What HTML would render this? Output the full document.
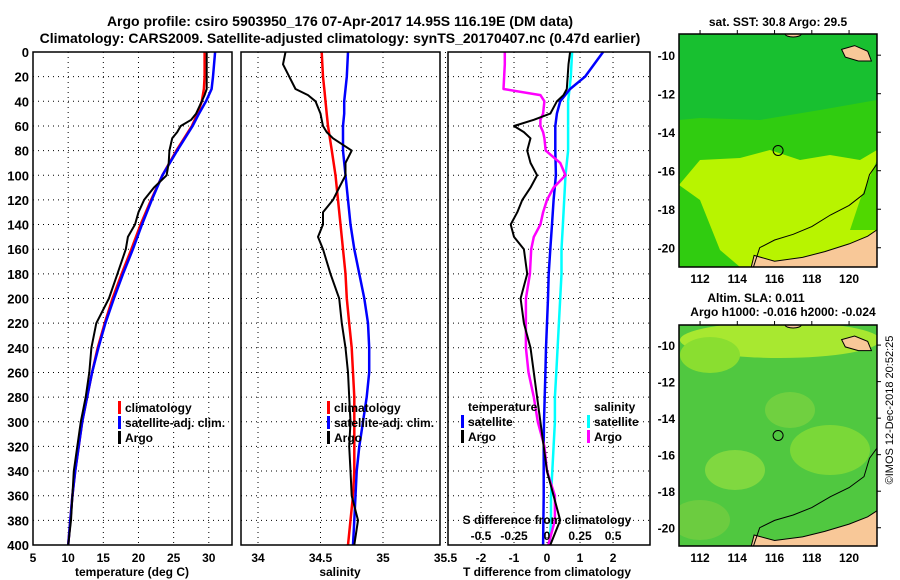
<!DOCTYPE html>
<html><head><meta charset="utf-8">
<style>
body{margin:0;background:#fff;}
svg{display:block;font-family:"Liberation Sans",sans-serif;font-weight:bold;}
</style></head>
<body>
<svg id="s" width="900" height="580" xmlns="http://www.w3.org/2000/svg">
<text x="340" y="26" font-size="14" text-anchor="middle">Argo profile: csiro 5903950_176 07-Apr-2017 14.95S 116.19E (DM data)</text>
<text x="340" y="43" font-size="14" text-anchor="middle">Climatology: CARS2009. Satellite-adjusted climatology: synTS_20170407.nc (0.47d earlier)</text>
<text transform="translate(893,410) rotate(-90)" font-size="11" font-weight="normal" text-anchor="middle">©IMOS 12-Dec-2018 20:52:25</text>
<g id="g"></g>
</svg>
<script>
// ---- data ----
const depths = [0,20,30,40,50,60,80,100,120,140,160,180,200,220,240,260,280,300,320,340,360,380,400];
const tempClim = [29.4,29.4,29.3,29.0,28.4,27.6,25.4,23.4,21.8,20.3,19.0,17.6,16.3,15.2,14.2,13.4,12.7,12.0,11.5,11.0,10.6,10.3,10.0];
const tempSat  = [30.9,30.6,30.4,29.6,28.6,27.7,25.5,23.4,21.9,20.5,19.2,17.8,16.5,15.3,14.3,13.4,12.7,12.0,11.5,11.0,10.6,10.3,10.0];
const argoDepths = [0,10,30,35,40,50,55,60,65,70,80,90,100,110,120,130,140,150,160,180,200,220,240,260,280,300,320,340,360,380,400];
const tempArgo = [29.7,29.7,29.7,29.4,29.0,28.2,27.5,26.0,25.5,24.8,24.4,24.3,24.0,22.2,20.8,20.0,19.5,18.5,18.2,17.0,15.8,14.0,13.3,13.0,12.5,11.8,11.3,10.8,10.6,10.4,10.0];
const salClim = [34.51,34.52,34.53,34.54,34.55,34.56,34.59,34.62,34.64,34.66,34.68,34.70,34.71,34.73,34.75,34.76,34.77,34.77,34.77,34.77,34.76,34.74,34.72];
const salSat  = [34.72,34.71,34.70,34.69,34.69,34.68,34.68,34.70,34.72,34.74,34.77,34.81,34.85,34.88,34.89,34.89,34.87,34.84,34.81,34.79,34.78,34.77,34.76];
const salArgo = [34.22,34.2,34.3,34.4,34.46,34.5,34.51,34.52,34.55,34.6,34.75,34.7,34.7,34.65,34.6,34.52,34.52,34.48,34.52,34.58,34.65,34.67,34.7,34.72,34.73,34.74,34.73,34.74,34.75,34.8,34.77];
const tDiffSat  = [1.7,1.15,0.7,0.4,0.3,0.25,0.25,0.27,0.2,0.15,0.1,0.05,0.03,0.0,-0.03,-0.05,-0.07,-0.09,-0.1,-0.1,-0.1,-0.11,-0.12];
const tDiffArgo = [0.7,0.65,0.6,0.5,0.3,0.1,-0.4,-1.0,-0.7,-0.5,-0.6,-0.5,-0.3,-0.5,-0.75,-0.9,-1.1,-1.0,-0.7,-0.6,-0.8,-0.7,-0.5,-0.4,-0.3,-0.2,-0.1,0.0,0.2,0.4,0.1];
const sDiffSat  = [0.19,0.18,0.17,0.16,0.16,0.16,0.16,0.14,0.13,0.12,0.11,0.11,0.10,0.09,0.08,0.07,0.06,0.06,0.05,0.04,0.03,0.03,0.02];
const sDiffArgo = [-0.32,-0.32,-0.33,-0.05,-0.02,-0.03,-0.05,-0.05,-0.03,-0.02,-0.01,0.10,0.14,0.05,0.0,-0.03,-0.05,-0.1,-0.12,-0.13,-0.16,-0.16,-0.16,-0.14,-0.1,-0.07,-0.02,0.0,0.06,0.06,0.01];
const yTicks = [0,20,40,60,80,100,120,140,160,180,200,220,240,260,280,300,320,340,360,380,400];
const tTicks = [5,10,15,20,25,30];
const sTicks = [34,34.5,35,35.5];
const dTicks = [-2,-1,0,1,2];
const sdTicks = [-0.5,-0.25,0,0.25,0.5];
const lonTicks = [112,114,116,118,120];
const latTicks = [-10,-12,-14,-16,-18,-20];

const NS="http://www.w3.org/2000/svg";
const G=document.getElementById('g');
function mk(tag,a,parent){const e=document.createElementNS(NS,tag);for(const k in a)e.setAttribute(k,a[k]);(parent||G).appendChild(e);return e;}
function txt(x,y,s,size,anchor,parent){const e=mk('text',{x:x,y:y,'font-size':size,'text-anchor':anchor||'middle'},parent);e.textContent=s;return e;}

const Y0=52,Y1=545;
const yS=d=>Y0+(d/400)*(Y1-Y0);

function panel(name,x0,x1,lo,hi,ticks,fmt,showY){
  const xS=v=>x0+(v-lo)/(hi-lo)*(x1-x0);
  const g=mk('g',{});
  
  
  yTicks.forEach(d=>{
    const l=mk('line',{x1:x0,x2:x1,y1:yS(d),y2:yS(d),stroke:'#000','stroke-dasharray':'1,4','stroke-width':1},g);
    
    if(showY){const t=txt(x0-4,yS(d)+5,String(d),13,'end',g);}
  });
  ticks.forEach(v=>{
    const l=mk('line',{x1:xS(v),x2:xS(v),y1:Y0,y2:Y1,stroke:'#000','stroke-dasharray':'1,4'},g);
    
    const t=txt(xS(v),Y1+17,fmt(v),12,'middle',g);
    
  });
  return {g,xS};
}
function line(g,xs,ds,xS,color,name,w){
  const p=mk('polyline',{points:xs.map((v,i)=>xS(v).toFixed(1)+','+yS(ds[i]).toFixed(1)).join(' '),fill:'none',stroke:color,'stroke-width':w||2.5,'stroke-linejoin':'round'},g);
  
}
function frame(g,x0,x1){const r=mk('rect',{x:x0,y:Y0,width:x1-x0,height:Y1-Y0,fill:'none',stroke:'#000','stroke-width':1.5},g);}
function legend(g,x,y,items){
  items.forEach((it,i)=>{
    const r=mk('rect',{x:x,y:y+i*15-11,width:3,height:13,fill:it[1]},g);
    
    const t=txt(x+7,y+i*15,it[0],12,'start',g);
  });
}

// Panel 1 temperature
let P=panel('temperature-panel',33,232,5,33.3,tTicks,v=>String(v),true);
line(P.g,tempClim,depths,P.xS,'#f00','temp-climatology-line');
line(P.g,tempSat,depths,P.xS,'#00f','temp-satellite-line');
line(P.g,tempArgo,argoDepths,P.xS,'#000','temp-argo-line',2);
frame(P.g,33,232);
legend(P.g,118,412,[['climatology','#f00'],['satellite-adj. clim.','#00f'],['Argo','#000']]);
txt(132,576,'temperature (deg C)',12,'middle',P.g);

// Panel 2 salinity
P=panel('salinity-panel',241,440,33.864,35.456,sTicks,v=>String(v),false);
line(P.g,salClim,depths,P.xS,'#f00','sal-climatology-line');
line(P.g,salSat,depths,P.xS,'#00f','sal-satellite-line');
line(P.g,salArgo,argoDepths,P.xS,'#000','sal-argo-line',2);
frame(P.g,241,440);
legend(P.g,327,412,[['climatology','#f00'],['satellite-adj. clim.','#00f'],['Argo','#000']]);
txt(340,576,'salinity',12,'middle',P.g);

// Panel 3 differences
P=panel('difference-panel',448,650,-3,3.12,dTicks,v=>String(v),false);
const sS=v=>P.xS(v*4);
line(P.g,sDiffSat,depths,sS,'#0ff','sdiff-satellite-line');
line(P.g,tDiffSat,depths,P.xS,'#00f','tdiff-satellite-line');
line(P.g,sDiffArgo,argoDepths,sS,'#f0f','sdiff-argo-line');
line(P.g,tDiffArgo,argoDepths,P.xS,'#000','tdiff-argo-line',2);
frame(P.g,448,650);
txt(468,411,'temperature',12,'start',P.g);
legend(P.g,461,426,[['satellite','#00f'],['Argo','#000']]);
txt(594,411,'salinity',12,'start',P.g);
legend(P.g,587,426,[['satellite','#0ff'],['Argo','#f0f']]);
txt(547,524,'S difference from climatology',12,'middle',P.g);
sdTicks.forEach(v=>{const t=txt(sS(v),540,String(v),12,'middle',P.g);});
txt(547,576,'T difference from climatology',12,'middle',P.g);

// Maps
function map(name,y0,y1,bg,blobs,showLon){
  const x0=679,x1=877,lo=110.87,hi=121.5,la0=-8.9,la1=-21.0;
  const xS=v=>x0+(v-lo)/(hi-lo)*(x1-x0), yM=v=>y0+(v-la0)/(la1-la0)*(y1-y0);
  const g=mk('g',{});
  const cid='c'+y0;const cp=mk('clipPath',{id:cid},g);mk('rect',{x:x0,y:y0,width:x1-x0,height:y1-y0},cp);
  const inner=mk('g',{'clip-path':'url(#'+cid+')'},g);
  mk('rect',{x:x0,y:y0,width:x1-x0,height:y1-y0,fill:bg},inner);
  blobs.forEach(b=>mk(b[0],b[1],inner));
  const pt=a=>a.map(p=>xS(p[0]).toFixed(1)+','+yM(p[1]).toFixed(1)).join(' ');
  // Australia coast
  mk('polygon',{points:pt([[114.7,-21.2],[114.9,-20.4],[116.0,-20.7],[117.5,-20.5],[118.7,-20.2],[120.0,-19.8],[121.0,-19.4],[121.6,-19.0],[121.6,-21.2]]),fill:'#f8c898',stroke:'#000','stroke-width':1},inner);
  // bathymetry contour
  mk('polyline',{points:pt([[114.8,-21.2],[115.2,-20.0],[116.0,-19.6],[117.0,-19.3],[118.0,-18.9],[119.0,-18.3],[120.0,-17.8],[120.8,-17.2],[121.1,-16.2],[121.6,-15.5]]),fill:'none',stroke:'#000','stroke-width':1},inner);
  // islands
  mk('polygon',{points:pt([[119.6,-9.7],[120.3,-9.5],[121.0,-9.8],[121.2,-10.3],[120.5,-10.3],[119.8,-10.1]]),fill:'#f8c898',stroke:'#000','stroke-width':1},inner);
  mk('ellipse',{cx:xS(117),cy:y0,rx:8,ry:3,fill:'#f8c898',stroke:'#000'},inner);
  mk('circle',{cx:xS(116.19),cy:yM(-14.95),r:5,fill:'none',stroke:'#000','stroke-width':1},g);
  mk('rect',{x:x0,y:y0,width:x1-x0,height:y1-y0,fill:'none',stroke:'#000','stroke-width':1.5},g);
  latTicks.forEach(v=>{const t=txt(x0-4,yM(v)+5,String(v),12,'end',g);
    mk('line',{x1:x1,x2:x1+4,y1:yM(v),y2:yM(v),stroke:'#000'},g);});
  lonTicks.forEach(v=>{mk('line',{x1:xS(v),x2:xS(v),y1:y0-4,y2:y0,stroke:'#000'},g);
    if(showLon){const t=txt(xS(v),y1+16,String(v),12,'middle',g);}});
}
map('sst-map',34,267,'#b8f400',[
 ['polygon',{points:'679,34 877,34 877,150 860,160 830,155 800,160 770,150 740,158 700,160 679,185',fill:'#30cc10'}],
 ['polygon',{points:'679,34 877,34 877,100 820,110 760,120 700,118 679,120',fill:'#18c030'}],
 ['polygon',{points:'679,185 700,200 720,250 740,267 679,267',fill:'#30cc10'}],
 ['polygon',{points:'877,160 860,200 850,230 877,230',fill:'#50d800'}]
],true);
map('sla-map',325,546,'#50c840',[
 ['ellipse',{cx:780,cy:340,rx:100,ry:18,fill:'#a8e830'}],
 ['ellipse',{cx:710,cy:355,rx:30,ry:18,fill:'#8ade30'}],
 ['ellipse',{cx:735,cy:470,rx:30,ry:20,fill:'#80d840'}],
 ['ellipse',{cx:830,cy:450,rx:40,ry:25,fill:'#7ad838'}],
 ['ellipse',{cx:790,cy:410,rx:25,ry:18,fill:'#70d040'}],
 ['ellipse',{cx:700,cy:520,rx:30,ry:20,fill:'#6ccc40'}]
],true);
txt(778,26,'sat. SST: 30.8 Argo: 29.5',12,'middle');
txt(756,302,'Altim. SLA: 0.011',12,'middle');
txt(783,316,'Argo h1000: -0.016 h2000: -0.024',12,'middle');
</script>
</body></html>
